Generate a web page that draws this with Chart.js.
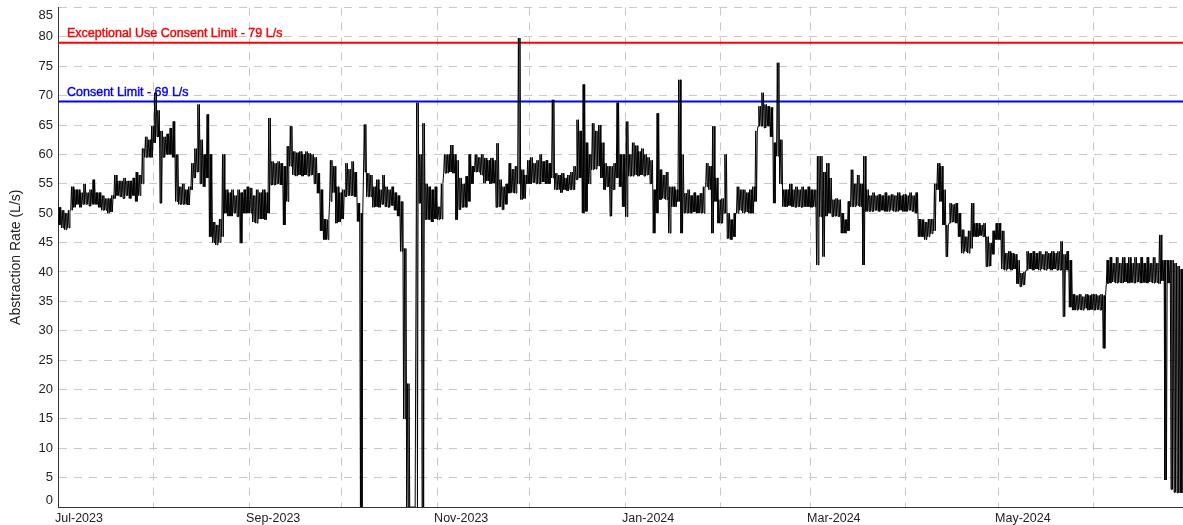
<!DOCTYPE html>
<html>
<head>
<meta charset="utf-8">
<script src="https://cdn.jsdelivr.net/npm/chart.js@4.4.1/dist/chart.umd.min.js"></script>
<style>
  body { margin: 0; background: #fff; }
  #wrap { width: 1183px; height: 525px; }
</style>
</head>
<body>
<div id="wrap"><canvas id="flowChart"></canvas></div>
<script>
// x axis = days since 1 Jul 2023, one grid line per month
const monthStartDays = [0, 31, 62, 92, 123, 153, 184, 215, 244, 275, 305, 336];
const monthTickLabels = ['Jul-2023', '', 'Sep-2023', '', 'Nov-2023', '', 'Jan-2024', '', 'Mar-2024', '', 'May-2024', ''];

// daily low / high of the abstraction rate (L/s)
const dailyLow = [
  // Jul
  48,47.5,47.2,47.5,50.5,51,51.5,51,51.5,51.5,51.2,51.5,51.5,51,50.5,50.5,50,50.2,52.5,53,52.8,52.5,53,52.5,53,52,53,55,59.5,59.5,59.5,
  // Aug
  62,63,51.7,59.5,60,60,59.5,52,51.5,51.5,51.5,51.4,54,56,57,55,54.5,56,46,45,44.6,45,46,50,49.5,49.5,50,49.4,44.9,50,50,
  // Sep
  50,48.5,48.3,49,49,48.9,50,54.8,54.8,55,54.8,48,52,58,56.5,56.3,56.5,56.3,56.5,56.3,56.5,55,53.4,47,45.5,45.5,52,53.5,48.3,48.5,
  // Oct
  49,52.8,53,53,52.8,48.6,0,57,52.8,52.8,51,51.1,51,51.5,51.1,51,51.3,50.5,49.5,43.5,15,0,0,0,0,51.7,0,48.9,48.9,48.5,49,
  // Nov
  48.9,49,56.8,56.8,57,56.8,48.9,50.6,51,51,52,55,57,57,56.5,55.1,55.5,55,55.1,51,51.1,50.6,51.5,53.4,53.5,53.4,55,52.3,52.5,55,
  // Dec
  55,55.2,55,55,55.3,55,55,56,54,54,53.5,54,53.8,54,54,55.7,56,50,50.3,55,57.4,57.5,58,56,54,54.5,49.5,54,56,54.5,51.1,
  // Jan
  49.4,56.3,56.3,56.5,56.3,56.5,56.3,56.5,55,46.6,50,52.3,52.5,52.3,46.6,51.1,51.1,52,46.6,50,50,50,50.2,50,50,50,54.5,54,46.6,52,48.3,
  // Feb
  48.3,50,45.7,45.5,46,50,50.5,50,50.2,50,50,52,64.8,64.8,64.5,64.8,63,51.7,59.7,55,51.1,51.1,51.3,51.1,51,51.1,51,51.1,51.1,
  // Mar
  51,51.1,41.2,49.4,42.6,49.5,50,49.4,49.5,49.4,46.6,46.6,47,51.1,51.1,51.3,51.1,41.2,50.3,50.3,50.3,50.5,50.3,50.5,50.3,50.3,50.5,50.3,50.3,50.5,50.3,
  // Apr
  50.3,50.5,50.3,50,46,46,45.5,46,46.5,47,54,52,48,42.6,48.3,48.5,48.3,46,43.2,43.5,43.2,44,46,46,46.2,46,40.9,41,43,45.5,
  // May
  45.5,40.5,40.3,40.5,40.3,40.5,38,37.5,37.8,40.3,40.5,40.3,40.5,40.3,40.5,40.3,40.5,40.3,40.5,40.3,40.3,32.4,40.3,34,33.5,33.5,33.6,33.5,33.8,33.5,33.6,
  // Jun
  33.5,33.6,33.5,27,38,38.1,38.3,38.1,38.2,38.1,38.3,38.1,38.2,38.1,38.3,38.1,38.2,38.1,38.3,38.1,38.2,38,38.5,4.6,38.1,3,2.5,2.4,2.4
];
const dailyHigh = [
  // Jul
  51,50.5,50,50.5,54.5,54,54,53.5,55,53.5,54,55.7,53.5,53.5,53,52.5,52.5,53,56.5,55.5,55.5,56,55.5,55.5,56,57,56.5,61,63,62.5,64.8,
  // Aug
  70.5,67.5,64,63,63.5,64.5,65.6,60,54.5,55,54,54.5,58.5,61,68.5,62.5,60,66.8,60,48.5,48,49,60,54,53.5,54,53,54,53.5,54,54.5,
  // Sep
  54.3,53,54,53.5,54,53.5,66.2,58.8,58.5,58.8,58.5,58,61.4,64.8,60.5,60.3,60.5,60,60.5,60.2,60,59.5,56.8,54,49,48.9,59,58,54.5,53.5,
  // Oct
  54,58.5,57.5,58.8,57,51.7,50,65.1,56.8,56.5,54.5,55.7,54,56.5,54.5,54,54.5,53.5,53,52,44,21,0,0,68.8,60,65.3,55,54.5,54,54.5,
  // Nov
  51.1,55,60,60,61.6,60,59,56,55,56.3,60,58,60,59.5,60,59.4,59,59.4,59,61.9,55.7,54.5,55,58.5,57.5,58,79.8,57.4,56.5,59,
  // Dec
  59.5,58.5,59,60,58.8,59,58.5,69.3,56.8,56.5,56.8,56,56.5,57,58,65.9,64,71.9,62,60,65.3,64,65,62,58.5,58,58,58.5,68.8,60,60,
  // Jan
  65.6,60,62,61.5,60.5,61,60,59.5,59,54,67,57.4,56.5,57,54.5,54.5,54,72.7,60,53.4,54,53,53.5,53,53.4,54.5,58.5,58,64.8,56,52.3,
  // Feb
  52.5,60,50,48.9,50,54.5,54,54,53.5,54,54.5,64,68.2,70.5,68.5,68.2,68,62,75.6,62.5,54,54,55,54,54.5,54,54.5,54,54.5,
  // Mar
  54,54,59.7,59.7,57,58.5,56,52.3,52.5,52.3,50,48.9,52,57.4,55,56.5,55,59.7,54,53,53.5,53,53.2,53,53.5,53,53.2,53,53.5,53,53.2,
  // Apr
  53,53.5,53,53.5,49,48.9,48.5,49,49,55,58.5,58,54,48,51.7,51.5,51.7,50,47.2,46,47,51.7,48.3,48.3,48,48.3,46,44.9,47,48.3,
  // May
  48.3,47,43.2,43.5,43.2,43,42,39.8,40,43.5,43.2,43.5,43.2,43.5,43,43.5,43.2,43.5,43.2,43.5,45.2,43,43.5,42,36.2,36,36.2,35.8,36.2,36,36.2,
  // Jun
  36.2,36,36.2,36,42,42.5,41.5,42.5,41.5,42.5,41.5,42.5,41.5,42.5,41.5,42.5,41.5,42.5,41.5,42.5,41.5,46.3,42,42,42,42,41.5,41,40.5
];

const limitValues = [79, 69];
const limitNames = ['Exceptional Use Consent Limit - 79 L/s', 'Consent Limit - 69 L/s'];
const limitColors = ['#ff0000', '#0000ff'];

const yMin = 0;
const yMax = 85;

const fontFamily = '"Liberation Sans", Arial, sans-serif';
const tickColor = '#222';

// each day swings between its low and its high (twice, so the band looks solid)
const flowPoints = [];
dailyLow.forEach((lo, d) => {
  const hi = dailyHigh[d];
  flowPoints.push({ x: d + 0.125, y: lo });
  flowPoints.push({ x: d + 0.375, y: hi });
  flowPoints.push({ x: d + 0.625, y: lo });
  flowPoints.push({ x: d + 0.875, y: hi });
});

const limitSets = limitValues.map((v, i) => ({
  data: [{ x: 0, y: v }, { x: 365, y: v }],
  borderColor: limitColors[i],
  borderWidth: 2,
  pointRadius: 0,
  order: 1
}));

// labels above the limit lines, drawn under the flow trace
const limitLabels = {
  id: 'limitLabels',
  beforeDatasetsDraw(chart) {
    const { ctx, chartArea, scales } = chart;
    ctx.save();
    ctx.font = '12.5px ' + fontFamily;
    ctx.textBaseline = 'alphabetic';
    ctx.textAlign = 'left';
    limitValues.forEach((v, i) => {
      const py = scales.y.getPixelForValue(v);
      ctx.fillStyle = limitColors[i];
      ctx.strokeStyle = limitColors[i];
      ctx.lineWidth = 0.4;
      ctx.fillText(limitNames[i], chartArea.left + 9, py - 6);
      ctx.strokeText(limitNames[i], chartArea.left + 9, py - 6);
    });
    ctx.restore();
  }
};

// the end labels of the y axis sit just inside the plot, like the original
const edgeTickLabels = {
  id: 'edgeTickLabels',
  afterDraw(chart) {
    const { ctx, chartArea, scales } = chart;
    const y = scales.y;
    ctx.save();
    ctx.font = '13px ' + fontFamily;
    ctx.fillStyle = tickColor;
    ctx.textAlign = 'right';
    ctx.textBaseline = 'middle';
    ctx.fillText(String(yMax), chartArea.left - 5, y.getPixelForValue(yMax) + 7.5);
    ctx.fillText(String(yMin), chartArea.left - 5, y.getPixelForValue(yMin) - 7);
    ctx.restore();
  }
};

new Chart(document.getElementById('flowChart'), {
  type: 'line',
  data: {
    datasets: [
      {
        data: flowPoints,
        borderColor: '#000000',
        borderWidth: 1,
        pointRadius: 0,
        tension: 0,
        order: 0
      },
      ...limitSets
    ]
  },
  options: {
    responsive: true,
    maintainAspectRatio: false,
    animation: false,
    parsing: false,
    layout: { padding: 0 },
    plugins: {
      legend: { display: false },
      tooltip: { enabled: false }
    },
    scales: {
      x: {
        type: 'linear',
        min: 0,
        max: 365,
        afterBuildTicks: (scale) => {
          scale.ticks = monthStartDays.map(v => ({ value: v }));
        },
        afterFit: (scale) => { scale.height = 18; },
        ticks: {
          autoSkip: false,
          maxRotation: 0,
          align: 'start',
          labelOffset: -3,
          padding: 4,
          color: tickColor,
          font: { family: fontFamily, size: 12.5 },
          callback: (value, index) => monthTickLabels[index]
        },
        grid: { color: '#c8c8c8', lineWidth: 1, drawTicks: false },
        border: { display: true, color: '#333', width: 1, dash: [8, 7] }
      },
      y: {
        min: yMin,
        max: yMax,
        afterFit: (scale) => {
          scale.width = 58;
          scale.paddingTop = 7.5;
          scale.paddingBottom = 0;
        },
        ticks: {
          stepSize: 5,
          padding: 5,
          color: (c) => (c.tick && (c.tick.value === yMin || c.tick.value === yMax)) ? 'rgba(0,0,0,0)' : tickColor,
          font: { family: fontFamily, size: 13 }
        },
        title: {
          display: true,
          text: 'Abstraction Rate (L/s)',
          color: tickColor,
          font: { family: fontFamily, size: 14 },
          padding: { top: 8, bottom: 0 }
        },
        grid: { color: '#c8c8c8', lineWidth: 1, drawTicks: false },
        border: { display: true, color: '#333', width: 1, dash: [8, 7] }
      }
    }
  },
  plugins: [limitLabels, edgeTickLabels]
});
</script>
</body>
</html>
